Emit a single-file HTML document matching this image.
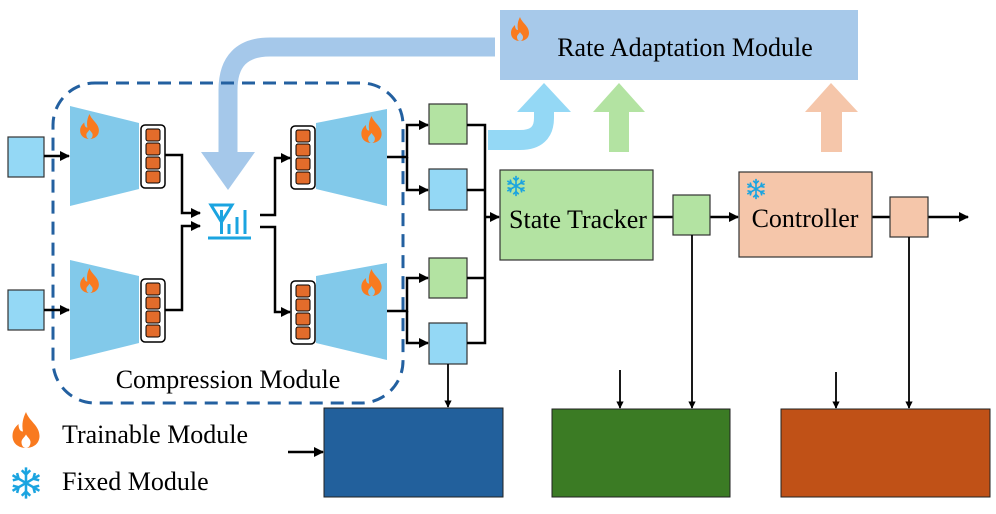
<!DOCTYPE html>
<html><head><meta charset="utf-8"><style>
html,body{margin:0;padding:0;background:#fff;}
svg{display:block;font-family:"Liberation Serif",serif;}
</style></head><body>
<svg width="996" height="514" viewBox="0 0 996 514" xmlns="http://www.w3.org/2000/svg">
<defs>
<marker id="ah" viewBox="0 0 10 10" refX="9" refY="5" markerWidth="4" markerHeight="4" orient="auto"><path d="M0,0 L10,5 L0,10 z" fill="#000"/></marker>
<symbol id="flame" viewBox="0 0 20 24"><path d="M10,0 C12,6 19,9 19,16 C19,21 15,24 10,24 C5,24 1,21 1,16 C1,12 3,10 5,8 C5,11 6,13 8,13 C7,8 8,4 10,0 Z M10,24 C12,24 13,22 13,20 C13,18 11,17 10,15 C9,17 7,18 7,20 C7,22 8,24 10,24Z" fill="#f97a1f" fill-rule="evenodd"/></symbol>
<symbol id="snow" viewBox="-12 -12 24 24"><g stroke="#1ba4e0" stroke-width="1.8" fill="none">
<path d="M0,-11V11M-9.5,-5.5L9.5,5.5M-9.5,5.5L9.5,-5.5"/>
<path d="M-3,-9L0,-6L3,-9M-3,9L0,6L3,9M-9.3,-1.9L-5.2,-3L-6.3,-7M9.3,1.9L5.2,3L6.3,7M-9.3,1.9L-5.2,3L-6.3,7M9.3,-1.9L5.2,-3L6.3,-7"/></g></symbol>
<g id="lat"><rect x="0" y="0" width="24" height="63" rx="4" fill="#fff" stroke="#000" stroke-width="1.5"/>
<rect x="5" y="4" width="14" height="12" rx="2" fill="#e36c2b" stroke="#000" stroke-width="1"/>
<rect x="5" y="18" width="14" height="12" rx="2" fill="#e36c2b" stroke="#000" stroke-width="1"/>
<rect x="5" y="32" width="14" height="12" rx="2" fill="#e36c2b" stroke="#000" stroke-width="1"/>
<rect x="5" y="46" width="14" height="12" rx="2" fill="#e36c2b" stroke="#000" stroke-width="1"/></g>
</defs>

<path d="M495,47 H270 Q228,47 228,90 V155" fill="none" stroke="#a5c8ea" stroke-width="19"/>
<polygon points="201,152 255,152 228,190" fill="#a5c8ea"/>

<rect x="500" y="10" width="358" height="70" fill="#a7c9ea"/>
<use href="#flame" x="510" y="17" width="20" height="24"/>
<text x="685" y="56" font-size="26" text-anchor="middle">Rate Adaptation Module</text>

<path d="M488,140 H520 Q544,140 544,118 V108" fill="none" stroke="#94d8f5" stroke-width="20"/>
<polygon points="517,112 571,112 544,83" fill="#94d8f5"/>
<rect x="609" y="110" width="20" height="42" fill="#b3e3a2"/>
<polygon points="593,112 645,112 619,83" fill="#b3e3a2"/>
<rect x="821" y="110" width="21" height="42" fill="#f5c6aa"/>
<polygon points="805,112 858,112 831,83" fill="#f5c6aa"/>

<rect x="53" y="83" width="350" height="320" rx="42" fill="none" stroke="#2360a0" stroke-width="3" stroke-dasharray="13,8"/>
<text x="228" y="388" font-size="26" text-anchor="middle">Compression Module</text>

<rect x="8" y="137" width="36" height="40" fill="#94d8f5" stroke="#333" stroke-width="1.2"/>
<rect x="8" y="290" width="36" height="40" fill="#94d8f5" stroke="#333" stroke-width="1.2"/>
<g stroke="#000" stroke-width="2.5" fill="none" marker-end="url(#ah)">
<line x1="44" y1="156" x2="69" y2="156"/>
<line x1="44" y1="310" x2="69" y2="310"/>
</g>

<polygon points="70,106 139,123 139,189 70,206" fill="#82c9ea"/>
<polygon points="70,260 139,276 139,343 70,360" fill="#82c9ea"/>
<use href="#flame" x="79" y="114" width="21" height="25"/>
<use href="#flame" x="79" y="268" width="21" height="25"/>
<use href="#lat" x="141" y="125"/>
<use href="#lat" x="141" y="279"/>

<polygon points="316,123 387,109 387,206 316,189" fill="#82c9ea"/>
<polygon points="316,276 387,263 387,360 316,343" fill="#82c9ea"/>
<use href="#flame" x="360" y="116" width="23" height="27"/>
<use href="#flame" x="360" y="269" width="23" height="27"/>
<use href="#lat" x="291" y="126"/>
<use href="#lat" x="291" y="281"/>

<g stroke="#1ba4e0" stroke-width="3" fill="none">
<polygon points="211,205 232,205 221.5,222"/>
<line x1="221.5" y1="210" x2="221.5" y2="234"/>
<line x1="229" y1="224" x2="229" y2="234"/>
<line x1="237" y1="217" x2="237" y2="234"/>
<line x1="245" y1="210" x2="245" y2="234"/>
<line x1="208" y1="238" x2="251" y2="238"/>
</g>

<g stroke="#000" stroke-width="2.5" fill="none" marker-end="url(#ah)">
<polyline points="165,155 182,155 182,213 200,213"/>
<polyline points="165,310 182,310 182,226 200,226"/>
<polyline points="260,215 275,215 275,158 290,158"/>
<polyline points="260,227 275,227 275,312 290,312"/>
<polyline points="387,157 407,157 407,125 428,125"/>
<polyline points="407,157 407,190 428,190"/>
<polyline points="387,311 407,311 407,278 428,278"/>
<polyline points="407,311 407,343 428,343"/>
</g>

<rect x="429" y="104" width="38" height="40" fill="#b3e3a2" stroke="#333" stroke-width="1.2"/>
<rect x="429" y="169" width="38" height="41" fill="#94d8f5" stroke="#333" stroke-width="1.2"/>
<rect x="429" y="258" width="38" height="40" fill="#b3e3a2" stroke="#333" stroke-width="1.2"/>
<rect x="429" y="323" width="38" height="41" fill="#94d8f5" stroke="#333" stroke-width="1.2"/>
<g stroke="#000" stroke-width="2.5" fill="none">
<polyline points="467,125 485,125 485,343 467,343"/>
<line x1="467" y1="190" x2="485" y2="190"/>
<line x1="467" y1="278" x2="485" y2="278"/>
<line x1="485" y1="217" x2="499" y2="217" marker-end="url(#ah)"/>
<line x1="653" y1="217" x2="673" y2="217"/>
<line x1="710" y1="217" x2="738" y2="217" marker-end="url(#ah)"/>
<line x1="872" y1="217" x2="890" y2="217"/>
<line x1="928" y1="217" x2="968" y2="217" marker-end="url(#ah)"/>
</g>

<rect x="500" y="170" width="153" height="90" fill="#b3e3a2" stroke="#333" stroke-width="1.2"/>
<use href="#snow" x="505" y="175" width="22" height="22"/>
<text x="578" y="228" font-size="26" text-anchor="middle">State Tracker</text>
<rect x="673" y="195" width="37" height="40" fill="#b3e3a2" stroke="#333" stroke-width="1.2"/>
<rect x="739" y="172" width="133" height="85" fill="#f5c6aa" stroke="#333" stroke-width="1.2"/>
<use href="#snow" x="745" y="178" width="22" height="22"/>
<text x="805" y="227" font-size="26" text-anchor="middle">Controller</text>
<rect x="890" y="197" width="38" height="40" fill="#f5c6aa" stroke="#333" stroke-width="1.2"/>

<g stroke="#000" stroke-width="1.8" fill="none" marker-end="url(#ah)">
<line x1="448" y1="364" x2="448" y2="407"/>
<line x1="692" y1="235" x2="692" y2="408"/>
<line x1="909" y1="237" x2="909" y2="408"/>
<line x1="620" y1="370" x2="620" y2="408"/>
<line x1="836" y1="372" x2="836" y2="408"/>
</g>
<line x1="288" y1="452" x2="323" y2="452" stroke="#000" stroke-width="2.5" marker-end="url(#ah)"/>

<rect x="324" y="408" width="179" height="89" fill="#22609c" stroke="#222" stroke-width="1"/>
<rect x="552" y="409" width="178" height="88" fill="#3b7b24" stroke="#222" stroke-width="1"/>
<rect x="781" y="409" width="209" height="88" fill="#c05117" stroke="#222" stroke-width="1"/>

<use href="#flame" x="11" y="412" width="30" height="36"/>
<text x="62" y="443" font-size="26">Trainable Module</text>
<use href="#snow" x="9" y="466" width="34" height="34"/>
<text x="62" y="490" font-size="26">Fixed Module</text>
</svg>
</body></html>
